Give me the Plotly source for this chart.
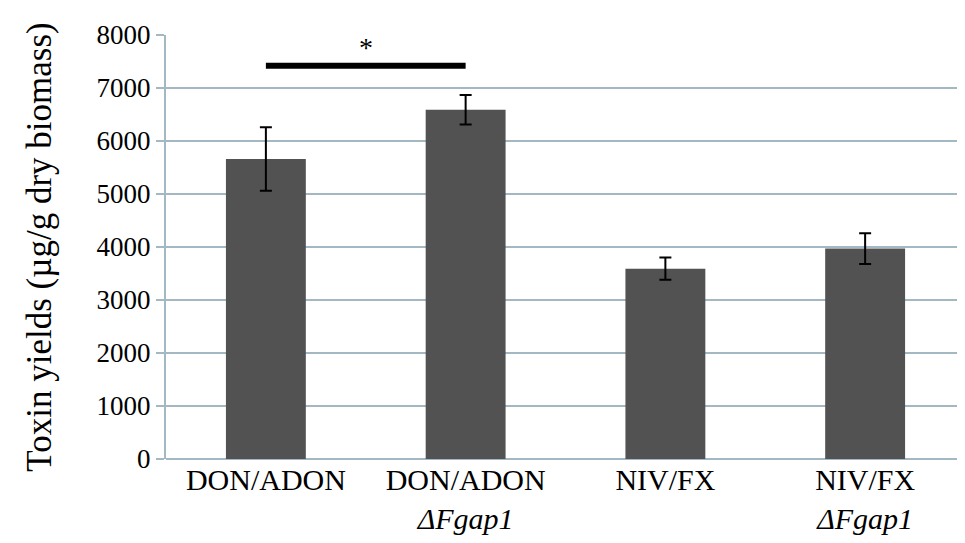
import plotly.graph_objects as go

categories = ["DON/ADON", "DON/ADON<br><i>ΔFgap1</i>", "NIV/FX", "NIV/FX<br><i>ΔFgap1</i>"]
values = [5660, 6590, 3590, 3970]
errors = [600, 280, 210, 290]
sig_y = 7420
sig_label = "*"

GRID = "#a3b8c2"
FONT = "'Liberation Serif', 'Times New Roman', Times, serif"

fig = go.Figure()
fig.add_trace(go.Bar(
    x=categories, y=values,
    width=0.4,
    marker=dict(color="#525252", line=dict(width=0)),
    error_y=dict(type="data", array=errors, visible=True, color="black", thickness=2, width=6),
))
fig.add_trace(go.Scatter(
    x=[categories[0], categories[1]], y=[sig_y, sig_y],
    mode="lines", line=dict(color="black", width=6), showlegend=False, hoverinfo="skip",
))
fig.add_annotation(
    x=0.5, y=sig_y, xref="x", yref="y", text=sig_label, showarrow=False, yshift=18,
    font=dict(family=FONT, size=28, color="black"),
)
# page body has an 8px margin, so the figure is shrunk/offset to match the 965x543 window
fig.update_layout(
    width=957, height=535,
    paper_bgcolor="white", plot_bgcolor="white",
    margin=dict(l=158, r=0, t=27, b=84),
    showlegend=False,
    font=dict(family=FONT, color="black"),
)
fig.update_xaxes(
    type="category", showgrid=False, showline=False, ticks="",
    tickfont=dict(family=FONT, size=30), range=[-0.5, 3.5], automargin=False,
)
fig.update_yaxes(
    range=[0, 8000], dtick=1000, tickformat="d",
    showgrid=True, gridcolor=GRID, gridwidth=2,
    showline=True, linecolor=GRID, linewidth=2,
    ticks="outside", tickcolor=GRID, ticklen=8, tickwidth=2,
    tickfont=dict(family=FONT, size=27),
    title=dict(text="Toxin yields (µg/g dry biomass)", font=dict(family=FONT, size=35), standoff=34),
    zeroline=True, zerolinecolor=GRID, zerolinewidth=2,
    automargin=False,
)
fig.write_html("out.html")
